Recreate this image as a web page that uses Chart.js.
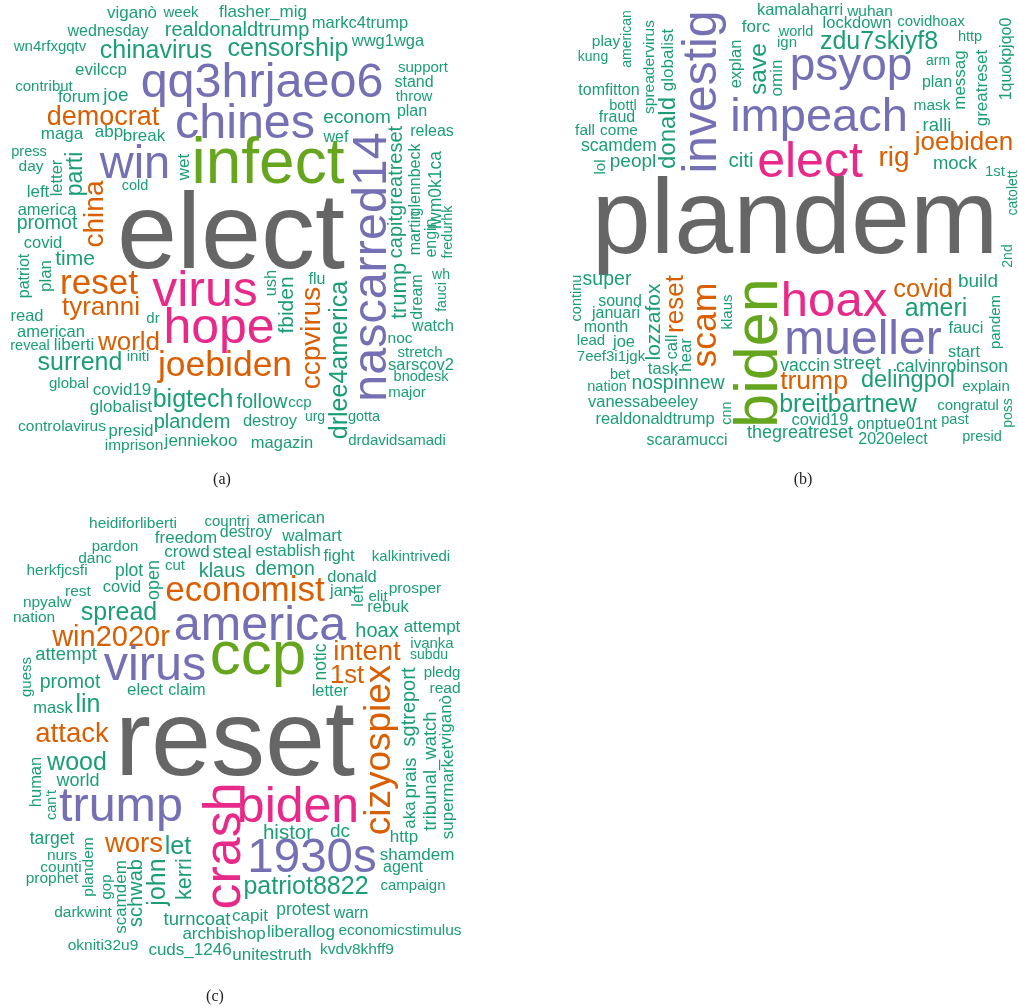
<!DOCTYPE html>
<html>
<head>
<meta charset="utf-8">
<title>Word clouds</title>
<script src="https://cdn.jsdelivr.net/npm/chart.js@4.4.1/dist/chart.umd.min.js"></script>
<style>
  html, body { margin: 0; padding: 0; background: #ffffff; }
  #wrap { position: relative; width: 1018px; height: 1007px; }
  #cloud { position: absolute; left: 0; top: 0; }
  .cap { position: absolute; font-family: "Liberation Serif", "DejaVu Serif", serif; font-size: 16px; color: #222; transform: translate(-50%, -50%); }
</style>
</head>
<body>
<div id="wrap">
  <canvas id="cloud" width="1018" height="1007"></canvas>
  <div class="cap" style="left:222px; top:479px;">(a)</div>
  <div class="cap" style="left:803px; top:479px;">(b)</div>
  <div class="cap" style="left:215px; top:996px;">(c)</div>
</div>
<script>
// ---- panel (a): terms and relative frequencies ----
const wordsA = ["viganò","week","flasher_mig","wednesday","realdonaldtrump","markc4trump","wn4rfxgqtv","chinavirus","censorship","wwg1wga",
  "evilccp","contribut","forum","joe","qq3hrjaeo6","democrat","chines","econom","support","stand",
  "throw","plan","releas","wef","maga","abp","break","press","day","win",
  "infect","parti","letter","china","wet","cold","left","america","promot","elect",
  "nascarred14","capitgreatreset","glennbeck","martin","lwm0k1ca","engin","fredurhk","wh","fauci","dream",
  "trump","watch","noc","stretch","sarscov2","bnodesk","major","gotta","drdavidsamadi","drlee4america",
  "ccpvirus","flu","fbiden","ush","virus","hope","joebiden","bigtech","follow","ccp",
  "urg","destroy","magazin","jenniekoo","plandem","presid","imprison","controlavirus","globalist","covid19",
  "global","surrend","initi","world","american","reveal","liberti","read","dr","tyranni",
  "reset","time","plan","patriot","covid"];
const freqA = [7,3,7,5,13,6,3,23,23,6,
  7,3,6,11,70,27,70,11,3,5,
  3,5,5,5,7,7,7,2,4,67,
  101,19,6,29,7,2,7,6,12,189,
  70,13,5,5,8,5,2,1,1,5,
  17,5,4,3,6,2,3,2,3,23,
  29,5,15,6,73,73,44,23,13,3,
  1,6,6,7,13,6,4,4,7,7,
  3,23,3,25,6,2,7,6,3,25,
  43,15,7,5,6];
// layout of panel (a): [x, y, vertical]
const layoutA = [[132,14,0],[181,13,0],[263,13,0],[108,32,0],[237,31,0],[360,24,0],[50,47,0],[156,51,0],[288,49,0],[388,42,0],
  [101,71,0],[44,87,0],[79,98,0],[116,96,0],[262,84,0],[103,118,0],[245,125,0],[357,118,0],[423,68,0],[414,83,0],
  [414,97,0],[412,112,0],[432,132,0],[336,138,0],[62,135,0],[109,133,0],[144,137,0],[29,152,0],[31,167,0],[135,166,0],
  [268,166,0],[76,174,1],[58,178,1],[96,214,1],[185,167,1],[135,186,0],[38,193,0],[47,211,0],[47,224,0],[231,240,0],
  [373,267,1],[397,192,1],[416,180,1],[416,233,1],[436,190,1],[432,238,1],[448,232,1],[441,275,0],[442,297,1],[418,297,1],
  [400,291,1],[433,327,0],[400,339,0],[420,353,0],[421,366,0],[421,377,0],[407,393,0],[364,417,0],[397,441,0],[340,360,1],
  [313,338,1],[317,280,0],[288,305,1],[272,283,1],[205,293,0],[219,330,0],[225,367,0],[193,400,0],[262,403,0],[300,403,0],
  [315,417,0],[270,422,0],[282,444,0],[201,442,0],[192,423,0],[131,432,0],[134,446,0],[62,427,0],[121,408,0],[122,391,0],
  [69,384,0],[80,363,0],[138,357,0],[129,343,0],[51,333,0],[30,346,0],[74,346,0],[27,317,0],[153,319,0],[101,308,0],
  [99,285,0],[75,260,0],[47,276,1],[25,276,1],[43,244,0]];

// ---- panel (b) ----
const wordsB = ["play","american","kung","spreadervirus","globalist","investig","tomfitton","bottl","fraud","fall",
  "come","scamdem","lol","peopl","donald","explan","save","omin","forc","citi",
  "impeach","elect","plandem","kamalaharri","wuhan","lockdown","covidhoax","world","ign","zdu7skiyf8",
  "http","1quokpjqo0","psyop","arm","messag","greatreset","plan","mask","ralli","joebiden",
  "rig","mock","1st","catolett","2nd","super","continu","sound","januari","month",
  "lead","joe","7eef3i1jgk","lozzafox","reset","call","hear","scam","klaus","biden",
  "task","bet","nation","nospinnew","vanessabeeley","realdonaldtrump","cnn","scaramucci","thegreatreset","hoax",
  "covid","build","pandem","ameri","mueller","fauci","start","vaccin","street","calvinrobinson",
  "trump","delingpol","explain","breitbartnew","congratul","poss","covid19","onptue01nt","past","presid",
  "2020elect"];
const freqB = [4,1,1,4,7,69,5,2,5,4,
  4,8,3,11,21,6,22,7,7,14,
  67,73,185,6,4,6,3,2,3,23,
  2,5,65,1,7,7,5,4,10,25,
  29,10,3,1,1,12,2,5,5,5,
  3,6,3,15,25,6,7,44,3,95,
  6,2,2,12,6,6,2,5,9,71,
  24,11,3,23,69,6,6,8,11,8,
  26,20,3,23,3,1,6,5,2,2,
  5];
const layoutB = [[606,42,0],[627,39,1],[593,57,0],[650,67,1],[669,60,1],[704,92,1],[609,91,0],[623,106,0],[617,118,0],[585,131,0],
  [619,131,0],[619,146,0],[601,167,1],[633,162,0],[669,133,1],[737,64,1],[760,69,1],[778,78,1],[756,28,0],[741,162,0],
  [819,119,0],[810,164,0],[795,225,0],[800,11,0],[870,12,0],[857,24,0],[931,22,0],[796,32,0],[787,43,0],[879,42,0],
  [970,37,0],[1007,59,1],[851,68,0],[938,61,0],[961,80,1],[983,88,1],[937,83,0],[932,106,0],[937,126,0],[964,143,0],
  [894,159,0],[955,164,0],[995,172,0],[1013,193,1],[1008,256,1],[607,280,0],[577,298,1],[620,302,0],[616,314,0],[606,328,0],
  [591,341,0],[624,343,0],[611,357,0],[655,322,1],[676,304,1],[673,347,1],[687,355,1],[707,325,1],[728,312,1],[761,353,1],
  [663,370,0],[620,375,0],[607,387,0],[678,384,0],[643,403,0],[655,420,0],[727,413,1],[687,441,0],[800,433,0],[834,303,0],
  [923,290,0],[978,282,0],[996,322,1],[936,309,0],[863,342,0],[966,329,0],[964,353,0],[805,366,0],[857,364,0],[952,367,0],
  [814,382,0],[908,381,0],[986,387,0],[848,405,0],[968,406,0],[1008,413,1],[820,421,0],[897,425,0],[955,420,0],[982,437,0],
  [893,440,0]];

// ---- panel (c) ----
const wordsC = ["heidiforliberti","countri","american","destroy","walmart","freedom","pardon","danc","crowd","steal",
  "establish","fight","kalkintrivedi","herkfjcsfi","plot","open","cut","klaus","demon","donald",
  "economist","rest","covid","npyalw","nation","spread","jan","left","elit","prosper",
  "rebuk","america","win2020r","hoax","attempt","ivanka","subdu","pledg","read","intent",
  "1st","notic","letter","cizyospiex","sgtreport","prais","aka","tribunal_watch","supermarket","viganò",
  "ccp","virus","attempt","guess","promot","elect","claim","mask","lin","attack",
  "reset","wood","human","world","can't","trump","crash","biden","target","nurs",
  "counti","prophet","plandem","gop","scamdem","schwab","john","wors","let","kerri",
  "darkwint","turncoat","capit","archbishop","okniti32u9","cuds_1246","unitestruth","liberallog","economicstimulus","kvdv8khff9",
  "protest","warn","patriot8822","1930s","histor","dc","http","shamdem","agent","campaign"];
const freqC = [4,3,6,5,7,7,3,4,7,10,
  6,6,3,4,8,9,3,13,12,6,
  43,4,6,4,4,23,6,5,3,4,
  6,70,31,13,7,3,1,3,4,28,
  24,8,6,47,13,11,7,10,7,7,
  97,70,10,3,12,7,5,6,23,28,
  189,23,6,9,2,70,77,73,8,4,
  4,4,4,3,7,13,23,28,23,16,
  4,10,7,7,4,7,7,7,4,4,
  8,5,23,68,14,11,7,7,5,3];
const layoutC = [[133,524,0],[227,522,0],[291,519,0],[246,533,0],[312,537,0],[186,539,0],[115,547,0],[95,559,0],[187,553,0],[232,553,0],
  [288,552,0],[339,557,0],[411,557,0],[57,571,0],[129,571,0],[154,580,1],[175,566,0],[222,572,0],[285,570,0],[352,578,0],
  [245,592,0],[78,592,0],[122,588,0],[47,603,0],[34,618,0],[119,613,0],[341,592,0],[359,596,1],[378,597,0],[415,589,0],
  [388,608,0],[260,627,0],[111,638,0],[377,632,0],[432,628,0],[432,644,0],[429,655,0],[442,673,0],[445,689,0],[367,653,0],
  [347,676,0],[321,662,1],[330,692,0],[380,750,1],[410,707,1],[411,778,1],[411,815,1],[431,771,1],[449,792,1],[447,720,1],
  [258,658,0],[155,667,0],[66,655,0],[27,677,1],[70,683,0],[145,691,0],[187,691,0],[53,709,0],[88,705,0],[72,735,0],
  [235,747,0],[77,763,0],[37,782,1],[78,781,0],[52,805,1],[121,808,0],[226,846,1],[298,809,0],[52,839,0],[62,856,0],
  [61,868,0],[52,879,0],[89,867,1],[107,887,1],[122,897,1],[137,893,1],[158,882,1],[134,845,0],[178,847,0],[185,879,1],
  [83,913,0],[197,920,0],[250,917,0],[224,935,0],[103,946,0],[190,951,0],[272,956,0],[301,933,0],[400,931,0],[357,950,0],
  [303,910,0],[351,914,0],[306,887,0],[312,860,0],[288,834,0],[340,832,0],[404,838,0],[417,856,0],[403,868,0],[413,886,0]];

// Dark2 palette, coloured by frequency band (lowest band first)
const palette = ["#1B9E77","#D95F02","#7570B3","#E7298A","#66A61E","#E6AB02","#A6761D","#666666"];
const MIN_PX = 13.5, PX_PER_COUNT = 0.5;

function makeSet(words, freq, layout) {
  return {
    words: words,
    freq: freq,
    maxFreq: Math.max.apply(null, freq),
    data: layout.map(p => ({ x: p[0], y: p[1], v: p[2] })),
    pointRadius: 0,
    pointHoverRadius: 0,
    showLine: false
  };
}

// draws each term at its point, size and colour from its frequency
const wordPlugin = {
  id: 'wordText',
  afterDatasetsDraw(chart) {
    const ctx = chart.ctx;
    chart.data.datasets.forEach((ds, i) => {
      const meta = chart.getDatasetMeta(i);
      meta.data.forEach((pt, j) => {
        const f = ds.freq[j];
        const size = MIN_PX + PX_PER_COUNT * f;
        const band = Math.min(8, Math.max(1, Math.ceil(8 * f / ds.maxFreq)));
        ctx.save();
        ctx.fillStyle = palette[band - 1];
        ctx.font = size.toFixed(1) + 'px "Liberation Sans", Arial, sans-serif';
        ctx.textAlign = 'center';
        ctx.textBaseline = 'alphabetic';
        ctx.translate(pt.x, pt.y);
        if (ds.data[j].v) ctx.rotate(-Math.PI / 2);
        ctx.fillText(ds.words[j], 0, 0.26 * size);
        ctx.restore();
      });
    });
  }
};

new Chart(document.getElementById('cloud'), {
  type: 'scatter',
  data: {
    datasets: [makeSet(wordsA, freqA, layoutA), makeSet(wordsB, freqB, layoutB), makeSet(wordsC, freqC, layoutC)]
  },
  options: {
    responsive: false,
    devicePixelRatio: 1,
    animation: false,
    layout: { padding: 0 },
    plugins: { legend: { display: false }, tooltip: { enabled: false } },
    scales: {
      x: { type: 'linear', min: 0, max: 1018, display: false },
      y: { type: 'linear', min: 0, max: 1007, reverse: true, display: false }
    }
  },
  plugins: [wordPlugin]
});
</script>
</body>
</html>
